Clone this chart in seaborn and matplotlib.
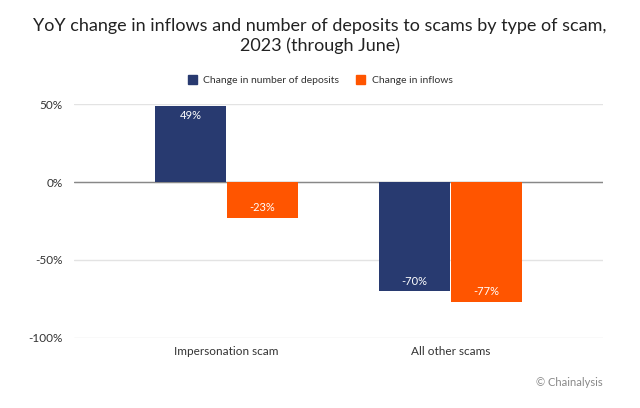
import matplotlib
matplotlib.use("Agg")
import matplotlib.pyplot as plt
import matplotlib.ticker as mticker
import pandas as pd
import seaborn as sns

# ---------------------------------------------------------------------------
# Data
# ---------------------------------------------------------------------------
categories = ["Impersonation scam", "All other scams"]
series_names = ["Change in number of deposits", "Change in inflows"]
deposits_change = [49, -70]
inflows_change = [-23, -77]
y_ticks = [-100, -50, 0, 50]

NAVY = "#283a70"
ORANGE = "#ff5500"

df = pd.DataFrame({
    "category": categories * 2,
    "series": [series_names[0]] * 2 + [series_names[1]] * 2,
    "value": deposits_change + inflows_change,
})

sns.set_theme(style="white")
plt.rcParams["font.family"] = ["Lato", "DejaVu Sans"]

fig = plt.figure(figsize=(6.4, 4.08), dpi=100)
ax = fig.add_axes([74 / 640, 1 - 338 / 408, (603 - 74) / 640, (338 - 104) / 408])

sns.barplot(data=df, x="category", y="value", hue="series",
            order=categories, hue_order=series_names,
            palette=[NAVY, ORANGE], width=0.64, gap=0.015,
            saturation=1, edgecolor="none", legend=False, ax=ax, zorder=3)

# value labels inside the bars
for cont in ax.containers:
    for bar in cont:
        h = bar.get_height()
        x = bar.get_x() + bar.get_width() / 2
        if h >= 0:
            y, va = h - 3, "top"
        else:
            y, va = h + 3, "bottom"
        ax.text(x, y, f"{h:.0f}%", ha="center", va=va, color="white",
                fontsize=8, zorder=4)

ax.set_ylim(-100, 50)
ax.set_xlim(-0.68, 1.68)
ax.set_yticks(y_ticks)
ax.yaxis.set_major_formatter(mticker.FuncFormatter(lambda v, _: f"{v:.0f}%"))
ax.grid(axis="y", color="#e3e3e3", linewidth=1, zorder=0)
ax.axhline(0, color="#888888", linewidth=1, zorder=2)
for s in ax.spines.values():
    s.set_visible(False)
ax.set_xlabel("")
ax.set_ylabel("")
ax.tick_params(axis="both", length=0, labelsize=8.5, colors="#333333")
ax.tick_params(axis="y", pad=8)
ax.tick_params(axis="x", pad=6)

fig.text(0.5, 1 - 36 / 408,
         "YoY change in inflows and number of deposits to scams by type of scam,\n"
         "2023 (through June)",
         ha="center", va="center", fontsize=13, color="#222222",
         linespacing=1.3)

# legend
handles = [plt.Rectangle((0, 0), 1, 1, color=NAVY),
           plt.Rectangle((0, 0), 1, 1, color=ORANGE)]
fig.legend(handles, series_names, loc="center", ncol=2,
           bbox_to_anchor=(0.5, 1 - 80 / 408), frameon=False, fontsize=7.5,
           handlelength=0.9, handleheight=0.9, columnspacing=1.6,
           handletextpad=0.6, labelcolor="#333333")

fig.text(603 / 640, 1 - 383 / 408, "© Chainalysis", ha="right", va="center",
         fontsize=8, color="#888888")

fig.savefig("out.png", dpi=100)
